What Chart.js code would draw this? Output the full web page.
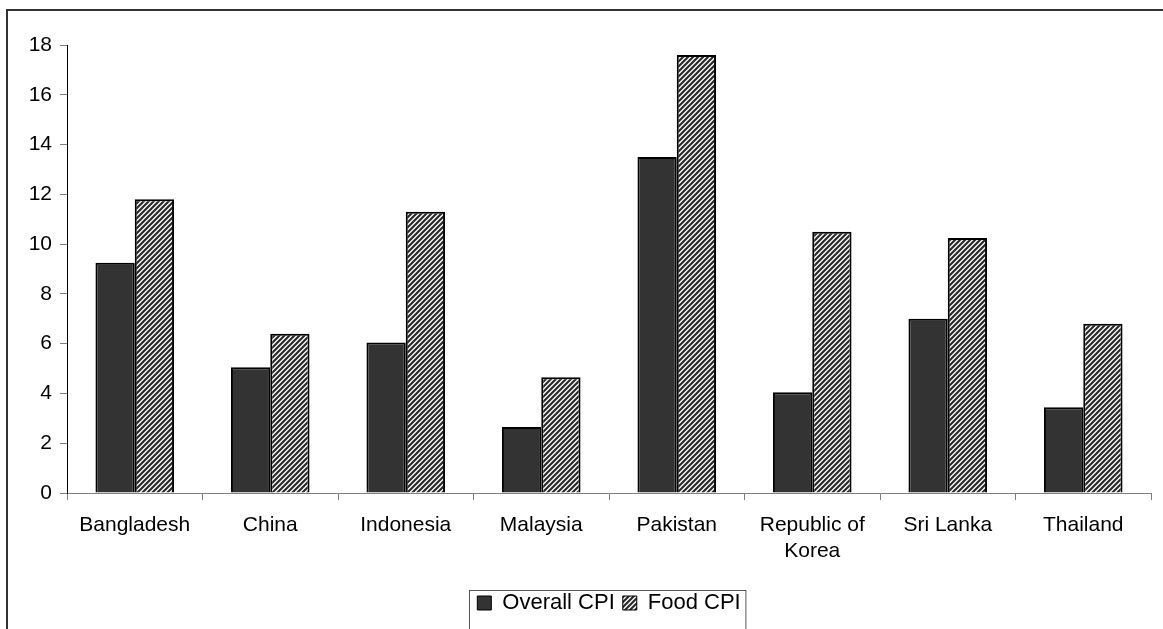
<!DOCTYPE html>
<html>
<head>
<meta charset="utf-8">
<script src="https://cdn.jsdelivr.net/npm/chart.js@4.4.1/dist/chart.umd.min.js"></script>
<style>
  html, body { margin: 0; padding: 0; background: #fff; overflow: hidden; }
  #wrap { position: relative; width: 1163px; height: 629px; }
  #frame { position: absolute; left: 6px; top: 9px; width: 2000px; height: 2000px;
           border-top: 2px solid #333; border-left: 2px solid #333; pointer-events: none; }
</style>
</head>
<body>
<div id="wrap">
  <canvas id="barChart" width="1163" height="629"></canvas>
  <div id="frame"></div>
</div>
<script>
// chart data
const countries = ['Bangladesh', 'China', 'Indonesia', 'Malaysia', 'Pakistan',
  ['Republic of', 'Korea'], 'Sri Lanka', 'Thailand'];
const overallCPI = [9.25, 5.05, 6.05, 2.65, 13.5, 4.05, 7.0, 3.45];
const foodCPI = [11.8, 6.4, 11.3, 4.65, 17.6, 10.5, 10.25, 6.8];
const yTicks = [0, 2, 4, 6, 8, 10, 12, 14, 16, 18];

const FONT = 'Arial, "Liberation Sans", sans-serif';

// diagonal hatch for the food series
const makeHatch = () => {
  const s = 5;
  const c = document.createElement('canvas');
  c.width = s; c.height = s;
  const g = c.getContext('2d');
  g.fillStyle = '#fff';
  g.fillRect(0, 0, s, s);
  g.strokeStyle = '#2a2a2a';
  g.lineWidth = 2.2;
  g.beginPath();
  g.moveTo(0, s); g.lineTo(s, 0);
  g.moveTo(-1, 1); g.lineTo(1, -1);
  g.moveTo(s - 1, s + 1); g.lineTo(s + 1, s - 1);
  g.stroke();
  return g.createPattern(c, 'repeat');
};

// border round the legend, left open at the bottom of the page
const legendBox = {
  id: 'legendBox',
  afterDraw(chart) {
    const lg = chart.legend;
    if (!lg || !lg.legendHitBoxes.length) return;
    const hb = lg.legendHitBoxes;
    const left = Math.min(...hb.map(b => b.left)) - 8;
    const right = Math.max(...hb.map(b => b.left + b.width)) + 5;
    const top = hb[0].top - 2;
    const ctx = chart.ctx;
    ctx.save();
    ctx.strokeStyle = '#555';
    ctx.lineWidth = 1;
    ctx.strokeRect(Math.round(left) + 0.5, Math.round(top) + 0.5, right - left, 100);
    ctx.restore();
  }
};

window.addEventListener('load', () => {
  const hatch = makeHatch();
  const ctx = document.getElementById('barChart');
  new Chart(ctx, {
    type: 'bar',
    data: {
      labels: countries,
      datasets: [
        { label: 'Overall CPI', data: overallCPI, backgroundColor: '#333333',
          borderColor: '#000', borderWidth: 2 },
        { label: 'Food CPI', data: foodCPI, backgroundColor: hatch,
          borderColor: '#000', borderWidth: 2 }
      ]
    },
    options: {
      responsive: false,
      animation: false,
      layout: { padding: { top: 45, right: 12, left: 0, bottom: 5 } },
      datasets: { bar: { categoryPercentage: 0.58, barPercentage: 1.0 } },
      plugins: {
        tooltip: { enabled: false },
        legend: {
          position: 'bottom',
          fullSize: false,
          labels: {
            color: '#000',
            font: { family: FONT, size: 22 },
            boxWidth: 14, boxHeight: 14, padding: 8,
            generateLabels: (chart) => chart.data.datasets.map((d, i) => ({
              text: d.label, fillStyle: d.backgroundColor, strokeStyle: '#000',
              lineWidth: 1, datasetIndex: i, hidden: false, fontColor: '#000'
            }))
          }
        }
      },
      scales: {
        x: {
          grid: { display: true, drawOnChartArea: false, drawTicks: true,
                  tickLength: 7, color: '#808080', offset: true },
          border: { display: true, color: '#808080', width: 1 },
          ticks: { color: '#000', font: { family: FONT, size: 21, lineHeight: 1.25 },
                   padding: 12, maxRotation: 0, autoSkip: false },
          afterFit: (scale) => { scale.height = 91; }
        },
        y: {
          min: 0, max: 18,
          afterBuildTicks: (scale) => { scale.ticks = yTicks.map(v => ({ value: v })); },
          grid: { display: true, drawOnChartArea: false, drawTicks: true,
                  tickLength: 7, color: '#808080' },
          border: { display: true, color: '#000', width: 1 },
          ticks: { color: '#000', font: { family: FONT, size: 21 }, padding: 8 },
          afterFit: (scale) => { scale.width = 67; }
        }
      }
    },
    plugins: [legendBox]
  });
});
</script>
</body>
</html>
